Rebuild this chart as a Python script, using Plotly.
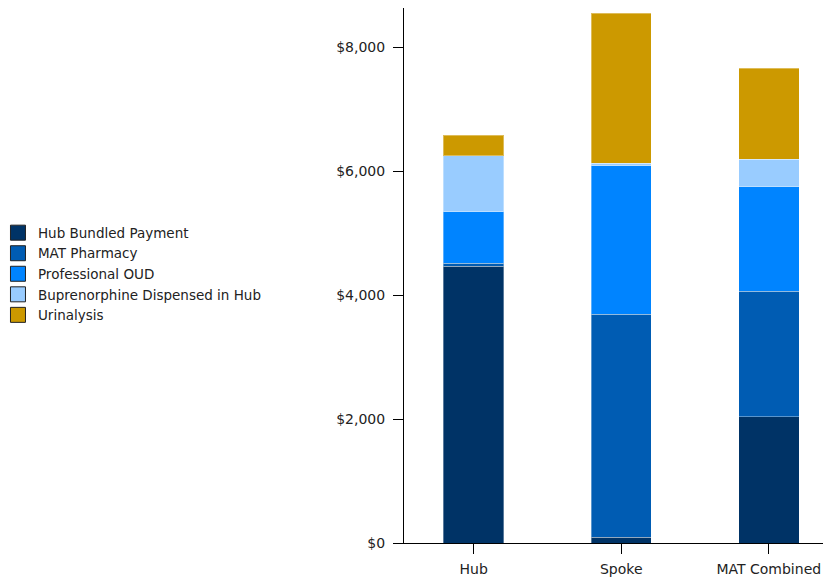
import plotly.graph_objects as go

categories = ["Hub", "Spoke", "MAT Combined"]
series_names = [
    "Hub Bundled Payment",
    "MAT Pharmacy",
    "Professional OUD",
    "Buprenorphine Dispensed in Hub",
    "Urinalysis",
]
hub_bundled = [4465, 94, 2036]
mat_pharmacy = [55, 3603, 2026]
professional_oud = [827, 2397, 1694]
buprenorphine_hub = [903, 39, 442]
urinalysis = [334, 2420, 1468]
series_values = [hub_bundled, mat_pharmacy, professional_oud, buprenorphine_hub, urinalysis]
colors = ["#003366", "#005CB3", "#0084FF", "#99CCFF", "#CC9900"]
y_ticks = [0, 2000, 4000, 6000, 8000]
y_tick_labels = ["$" + format(v, ",") for v in y_ticks]

fig = go.Figure()
for name, vals, col in zip(series_names, series_values, colors):
    fig.add_trace(go.Bar(
        x=categories, y=vals, name=name, showlegend=False,
        marker=dict(color=col, line=dict(color="rgba(255,255,255,0.35)", width=1)),
        width=0.41,
    ))
# legend entries
for name, col in zip(series_names, colors):
    fig.add_trace(go.Scatter(
        x=[None], y=[None], mode="markers", name=name,
        marker=dict(symbol="square", size=15, color=col, line=dict(color="#222222", width=1)),
    ))

fig.update_layout(
    width=823, height=574,
    margin=dict(l=395.5, r=1, t=0, b=38.5),
    barmode="stack",
    plot_bgcolor="white", paper_bgcolor="white",
    font=dict(family="DejaVu Sans", size=14, color="#222222"),
    showlegend=True,
    legend=dict(
        x=-0.9273, xanchor="left", y=0.503, yanchor="middle",
        traceorder="normal", font=dict(size=13.5, color="#222222"),
        tracegroupgap=0, indentation=-11,
    ),
)
fig.update_xaxes(
    type="category", range=[-0.4726, 2.415],
    showline=True, linecolor="#000000", linewidth=1,
    ticks="outside", ticklen=10, tickcolor="#000000",
    showgrid=False, zeroline=False,
    tickfont=dict(size=14), ticklabelstandoff=3,
)
fig.update_yaxes(
    range=[0, 8638], tickvals=y_ticks, ticktext=y_tick_labels,
    showline=True, linecolor="#000000", linewidth=1,
    ticks="outside", ticklen=10, tickcolor="#000000",
    showgrid=False, zeroline=False,
    tickfont=dict(size=14), ticklabelstandoff=5,
)
fig.write_html("out.html")
